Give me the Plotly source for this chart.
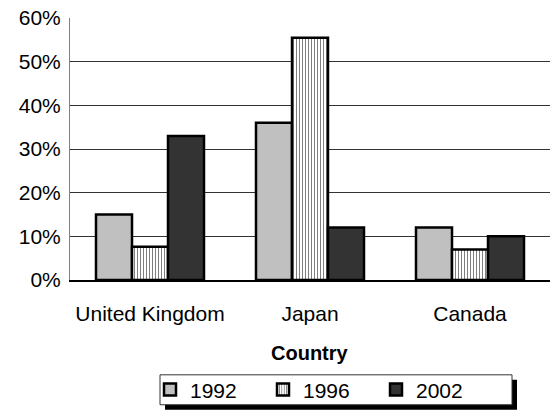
import plotly.graph_objects as go

countries = ["United Kingdom", "Japan", "Canada"]
years = ["1992", "1996", "2002"]
share_1992 = [15, 36, 12]
share_1996 = [7.6, 55.5, 7]
share_2002 = [33, 12, 10]
y_ticks = [0, 10, 20, 30, 40, 50, 60]
y_tick_text = [f"{v}%" for v in y_ticks]

FONT = "Arial, Liberation Sans, sans-serif"
FS = 21

fig = go.Figure()
fig.add_bar(
    x=countries, y=share_1992, name=years[0],
    marker=dict(color="#C0C0C0", line=dict(color="black", width=2.5)),
)
fig.add_bar(
    x=countries, y=share_1996, name=years[1],
    marker=dict(
        color="white",
        line=dict(color="black", width=2.5),
        pattern=dict(shape="|", fgcolor="black", bgcolor="white", size=3, solidity=0.35),
    ),
)
fig.add_bar(
    x=countries, y=share_2002, name=years[2],
    marker=dict(color="#333333", line=dict(color="black", width=2.5)),
)

W, H = 550, 415
L, T, B = 70, 17.5, 135
pw, ph = W - L, H - T - B


def px_x(x):
    return (x - L) / pw


def px_y(y):
    return (H - B - y) / ph


# legend frame with drop shadow
lx0, lx1, ly0, ly1 = 160, 512, 375, 405
fig.add_shape(type="rect", xref="paper", yref="paper",
              x0=px_x(lx0 + 5), x1=px_x(lx1 + 5), y0=px_y(ly1 + 5), y1=px_y(ly0 + 5),
              fillcolor="black", line=dict(width=0), layer="above")
fig.add_shape(type="rect", xref="paper", yref="paper",
              x0=px_x(lx0), x1=px_x(lx1), y0=px_y(ly1), y1=px_y(ly0),
              fillcolor="white", line=dict(color="#333333", width=1), layer="above")

fig.add_annotation(text="<b>Country</b>", xref="paper", yref="paper",
                   x=0.5, y=px_y(353), showarrow=False,
                   font=dict(family=FONT, size=FS - 1, color="black"),
                   xanchor="center", yanchor="middle")

fig.update_layout(
    width=W, height=H,
    margin=dict(l=L, r=0, t=T, b=B, autoexpand=False),
    paper_bgcolor="white", plot_bgcolor="white",
    barmode="group", bargap=0.325, bargroupgap=0,
    font=dict(family=FONT, size=FS, color="black"),
    showlegend=True,
    legend=dict(
        orientation="h", x=px_x(150), y=px_y(390), xanchor="left", yanchor="middle",
        bgcolor="rgba(0,0,0,0)", borderwidth=0,
        entrywidth=68, entrywidthmode="pixels",
        font=dict(family=FONT, size=FS, color="black"),
        traceorder="normal",
    ),
    xaxis=dict(
        showline=True, linecolor="black", linewidth=1.5,
        showgrid=False, ticks="", ticklabelstandoff=14,
        tickfont=dict(family=FONT, size=FS),
    ),
    yaxis=dict(
        range=[0, 60], tickmode="array", tickvals=y_ticks, ticktext=y_tick_text,
        showline=True, linecolor="#808080", linewidth=1,
        showgrid=True, gridcolor="#333333", gridwidth=1,
        zeroline=False, ticks="", ticklabelstandoff=4,
        tickfont=dict(family=FONT, size=FS),
    ),
)

fig.write_html("out.html")
